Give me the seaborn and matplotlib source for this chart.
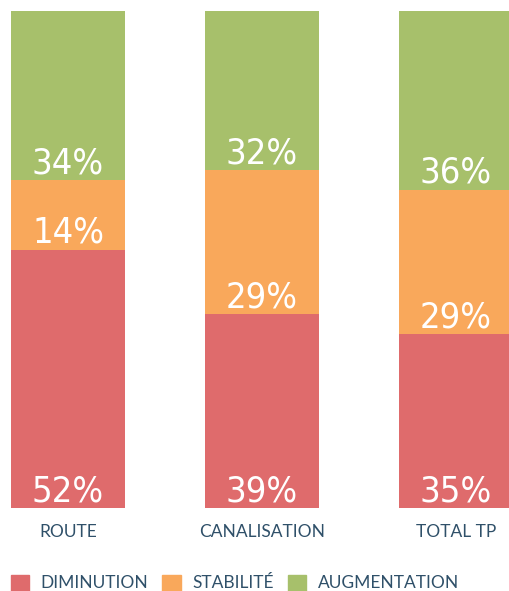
import matplotlib
matplotlib.use("Agg")
import matplotlib.pyplot as plt
from matplotlib.patches import Patch
import seaborn as sns
import pandas as pd

categories = ["ROUTE", "CANALISATION", "TOTAL TP"]
diminution = [52, 39, 35]
stabilite = [14, 29, 29]
augmentation = [34, 32, 36]
series_names = ["DIMINUTION", "STABILITÉ", "AUGMENTATION"]

red = "#df6b6c"
orange = "#f9a85b"
green = "#a7c06b"
text_blue = "#2f5069"

sns.set_theme(style="white")
plt.rcParams["font.family"] = ["Lato", "DejaVu Sans"]

df = pd.DataFrame({"cat": categories, "dim": diminution, "sta": stabilite, "aug": augmentation})
df["low"] = df["dim"]
df["mid"] = df["dim"] + df["sta"]
df["top"] = df["mid"] + df["aug"]

fig = plt.figure(figsize=(5.09, 5.91), dpi=100)
ax = fig.add_axes([0, 83 / 591, 1, 497 / 591])

w = 114 / 194
for col, c in [("top", green), ("mid", orange), ("low", red)]:
    sns.barplot(data=df, x="cat", y=col, color=c, width=w, saturation=1,
                linewidth=0, ax=ax)

for i, row in df.iterrows():
    for base, val in [(0, row["dim"]), (row["low"], row["sta"]), (row["mid"], row["aug"])]:
        ax.annotate(f"{val}%", (i, base), xytext=(0, 5), textcoords="offset points",
                    ha="center", va="baseline", color="white", fontsize=26,
                    family=["DejaVu Sans"], fontstretch="condensed",
                    fontweight="light")

ax.set_xlim(-68 / 194, (509 - 68) / 194)
ax.set_ylim(0, 100)
ax.set_xlabel("")
ax.set_ylabel("")
ax.set_yticks([])
ax.tick_params(axis="x", length=0, pad=11.5, labelsize=12.5, labelcolor=text_blue)
sns.despine(ax=ax, left=True, bottom=True)

handles = [Patch(color=c) for c in [red, orange, green]]
leg = fig.legend(handles, series_names, ncol=3, loc="center left",
                 bbox_to_anchor=(11 / 509, 8 / 591), frameon=False, fontsize=12.5,
                 handlelength=1.05, handleheight=1.05, handletextpad=0.67,
                 columnspacing=0.8, borderpad=0, borderaxespad=0)
for t in leg.get_texts():
    t.set_color(text_blue)

fig.savefig("out.png", dpi=100)
